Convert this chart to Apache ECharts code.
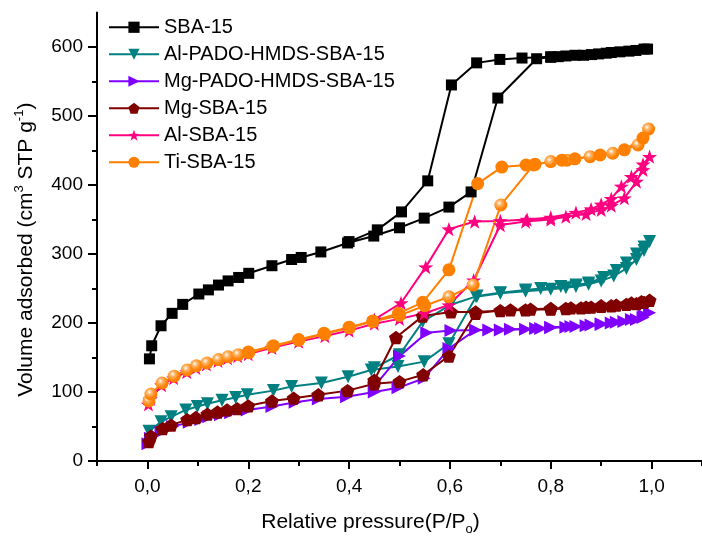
<!DOCTYPE html>
<html>
<head>
<meta charset="utf-8">
<script src="https://cdn.jsdelivr.net/npm/echarts@6/dist/echarts.min.js"></script>
<style>html,body{margin:0;padding:0;background:#fff}#c{width:702px;height:550px}</style>
</head>
<body>
<div id="c"></div>
<script>
// ---- data ----
const xTicks = [0, 0.2, 0.4, 0.6, 0.8, 1.0];
const xMinorTicks = [-0.1, 0.1, 0.3, 0.5, 0.7, 0.9, 1.1];
const yTicks = [0, 100, 200, 300, 400, 500, 600];
const yMinorTicks = [50, 150, 250, 350, 450, 550];

const seriesNames = ['SBA-15', 'Al-PADO-HMDS-SBA-15', 'Mg-PADO-HMDS-SBA-15', 'Mg-SBA-15', 'Al-SBA-15', 'Ti-SBA-15'];

const sbaAds = [[0.004,148],[0.0085,167],[0.027,196],[0.049,214],[0.07,227],[0.102,242],[0.121,248],[0.141,255],[0.16,261],[0.181,266],[0.201,272],[0.247,283],[0.286,292],[0.305,295],[0.344,303],[0.397,316],[0.449,326],[0.5,338],[0.549,352],[0.598,368],[0.642,390],[0.695,526],[0.772,583],[0.80,585],[0.815,586],[0.848,588],[0.881,589],[0.91,591],[0.937,593],[0.969,595],[0.992,597]];
const sbaDes = [[0.985,597],[0.955,594],[0.92,592],[0.895,590],[0.865,588],[0.83,587],[0.80,586],[0.743,584],[0.699,582],[0.653,577],[0.603,545],[0.556,406],[0.504,361],[0.456,335],[0.40,318]];

const alPadoAds = [[0.003,43],[0.027,57],[0.047,64],[0.076,74],[0.099,79],[0.119,83],[0.148,88],[0.175,92],[0.198,96],[0.25,102],[0.286,108],[0.345,113],[0.398,122],[0.444,132],[0.497,137],[0.549,144],[0.598,170],[0.652,238],[0.70,243],[0.75,246],[0.80,249],[0.83,251],[0.85,253],[0.875,256],[0.90,261],[0.925,268],[0.95,279],[0.97,292],[0.985,305],[0.996,318]];
const alPadoDes = [[0.985,310],[0.97,300],[0.95,287],[0.93,276],[0.905,266],[0.875,258],[0.85,255],[0.82,253],[0.78,250],[0.75,248],[0.70,244],[0.654,239],[0.60,226],[0.546,202],[0.50,154],[0.45,135]];

const mgPadoAds = [[0.001,25],[0.006,33],[0.027,42],[0.05,50],[0.083,56],[0.106,60],[0.122,64],[0.145,67],[0.165,70],[0.198,74],[0.247,79],[0.293,85],[0.339,90],[0.395,93],[0.45,100],[0.497,106],[0.549,120],[0.598,163],[0.651,190],[0.70,190],[0.75,191],[0.78,192],[0.80,193],[0.83,194],[0.85,195],[0.88,197],[0.90,199],[0.92,200],[0.945,202],[0.97,205],[0.983,208],[0.996,215]];
const mgPadoDes = [[0.985,211],[0.96,205],[0.93,201],[0.90,198],[0.87,196],[0.84,195],[0.80,194],[0.77,192],[0.72,191],[0.677,190],[0.602,189],[0.554,186],[0.50,152],[0.45,108]];

const mgSbaAds = [[0.003,28],[0.007,36],[0.03,47],[0.047,52],[0.079,60],[0.096,63],[0.119,68],[0.139,71],[0.158,74],[0.178,76],[0.20,80],[0.247,87],[0.29,91],[0.339,96],[0.397,102],[0.45,112],[0.50,115],[0.547,125],[0.598,152],[0.651,214],[0.70,218],[0.75,219],[0.80,220],[0.83,221],[0.86,222],[0.88,223],[0.90,224],[0.92,225],[0.95,227],[0.97,228],[0.985,230],[0.996,233]];
const mgSbaDes = [[0.98,231],[0.96,229],[0.93,226],[0.90,225],[0.87,223],[0.84,222],[0.80,221],[0.76,220],[0.72,219],[0.651,216],[0.602,216],[0.546,210],[0.493,179],[0.45,117]];

const alSbaAds = [[0.002,82],[0.006,90],[0.028,110],[0.052,120],[0.078,129],[0.096,135],[0.117,140],[0.14,145],[0.159,149],[0.179,152],[0.20,155],[0.247,164],[0.30,173],[0.352,181],[0.40,189],[0.45,199],[0.50,206],[0.549,214],[0.598,226],[0.647,262],[0.70,342],[0.75,347],[0.80,350],[0.83,354],[0.87,358],[0.90,364],[0.92,370],[0.946,381],[0.97,405],[0.983,422],[0.996,441]];
const alSbaDes = [[0.983,430],[0.96,412],[0.94,398],[0.92,380],[0.90,372],[0.88,365],[0.85,360],[0.80,353],[0.753,350],[0.70,348],[0.649,347],[0.598,336],[0.552,281],[0.503,229],[0.45,205]];

const tiAds = [[0.003,87],[0.007,97],[0.029,113],[0.053,123],[0.079,132],[0.097,138],[0.118,142],[0.141,147],[0.16,151],[0.18,154],[0.201,157],[0.248,166],[0.30,175],[0.352,184],[0.401,193],[0.447,202],[0.50,211],[0.55,225],[0.598,238],[0.646,255],[0.701,371],[0.766,429],[0.80,434],[0.832,436],[0.878,441],[0.923,446],[0.973,458],[0.994,481]];
const tiDes = [[0.983,468],[0.946,451],[0.898,443.5],[0.848,438],[0.822,436],[0.769,430],[0.751,429],[0.703,426],[0.655,402],[0.598,277],[0.546,230],[0.498,214],[0.447,203],[0.40,194],[0.35,185],[0.30,176],[0.25,167],[0.20,158]];

// ---- styles ----
const FONT = "'Liberation Sans', Arial, sans-serif";
function starPath() {
  const pts = [];
  for (let i = 0; i < 10; i++) {
    const a = (-90 + i * 36) * Math.PI / 180;
    const r = i % 2 === 0 ? 1 : 0.4;
    pts.push((r * Math.cos(a)).toFixed(4) + ',' + (r * Math.sin(a)).toFixed(4));
  }
  return 'path://M' + pts.join(' L') + ' Z';
}
const pentagon = 'path://M0,-1 L0.951,-0.309 L0.588,0.809 L-0.588,0.809 L-0.951,-0.309 Z';
const glossy = {
  type: 'radial', x: 0.38, y: 0.35, r: 0.65,
  colorStops: [{offset: 0, color: '#ffffff'}, {offset: 0.3, color: '#ffb466'}, {offset: 0.75, color: '#ff8000'}, {offset: 1, color: '#ff8000'}]
};

function mk(name, ads, des, color, symbol, size, rotate, glossyAds) {
  const data = ads.map(p => glossyAds ? {value: p, itemStyle: {color: glossy}} : p).concat(des);
  return {
    name: name, type: 'line', data: data,
    symbol: symbol, symbolSize: size, symbolRotate: rotate, symbolKeepAspect: true,
    showAllSymbol: true,
    lineStyle: {color: color, width: 2},
    itemStyle: {color: color, borderWidth: 0},
    emphasis: {disabled: true},
    animation: false, z: 2
  };
}

const series = [
  mk(seriesNames[0], sbaAds, sbaDes, '#000000', 'rect', 11, 0, false),
  mk(seriesNames[1], alPadoAds, alPadoDes, '#008080', 'triangle', 13, 180, false),
  mk(seriesNames[2], mgPadoAds, mgPadoDes, '#8000ff', 'triangle', 13, -90, false),
  mk(seriesNames[3], mgSbaAds, mgSbaDes, '#800000', pentagon, 14, 0, false),
  mk(seriesNames[4], alSbaAds, alSbaDes, '#ff0080', starPath(), 15, 0, false),
  mk(seriesNames[5], tiAds, tiDes, '#ff8000', 'circle', 13, 0, true)
];

const fmt = v => Number(v).toFixed(1).replace('.', ',');

const option = {
  animation: false,
  backgroundColor: '#ffffff',
  textStyle: {fontFamily: FONT},
  grid: {left: 97, top: 12.5, width: 609, height: 448.5, containLabel: false},
  legend: {
    data: seriesNames, orient: 'vertical', left: 108, top: 17, padding: 0,
    itemWidth: 50, itemHeight: 14, itemGap: 6.5,
    textStyle: {fontSize: 20, lineHeight: 20.5, color: '#000', fontFamily: FONT}
  },
  xAxis: [{
    type: 'value', min: -0.1, max: 1.1, position: 'bottom',
    axisLine: {show: true, onZero: false, lineStyle: {color: '#000', width: 2}},
    axisTick: {show: true, inside: false, length: 8, lineStyle: {color: '#000', width: 2}, customValues: xTicks},
    axisLabel: {show: true, customValues: xTicks, formatter: fmt, fontSize: 19, color: '#000', margin: 16, fontFamily: FONT},
    splitLine: {show: false},
    name: '{n|Relative pressure(P/P}{b|o}{n|)}',
    nameLocation: 'middle', nameGap: 47,
    nameTextStyle: {padding: [0, 58, 0, 0], rich: {
      n: {fontSize: 21, lineHeight: 28, color: '#000', fontFamily: FONT},
      b: {fontSize: 13, lineHeight: 13, verticalAlign: 'bottom', color: '#000', fontFamily: FONT}
    }}
  }, {
    type: 'value', min: -0.1, max: 1.1, position: 'bottom',
    axisLine: {show: false, onZero: false},
    axisTick: {show: true, inside: false, length: 5, lineStyle: {color: '#000', width: 2}, customValues: xMinorTicks},
    axisLabel: {show: false},
    splitLine: {show: false}
  }],
  yAxis: [{
    type: 'value', min: 0, max: 650, position: 'left',
    axisLine: {show: true, onZero: false, lineStyle: {color: '#000', width: 2}},
    axisTick: {show: true, inside: false, length: 9, lineStyle: {color: '#000', width: 2}, customValues: yTicks},
    axisLabel: {show: true, customValues: yTicks, fontSize: 19, color: '#000', margin: 14, fontFamily: FONT},
    splitLine: {show: false},
    name: '{n|Volume adsorbed (cm}{s|3}{n| STP g}{s|-1}{n|)}',
    nameLocation: 'middle', nameGap: 58, nameRotate: 90,
    nameTextStyle: {padding: [0, 26, 0, 0], rich: {
      n: {fontSize: 21, lineHeight: 26, color: '#000', fontFamily: FONT},
      s: {fontSize: 13, lineHeight: 13, verticalAlign: 'top', color: '#000', fontFamily: FONT}
    }}
  }, {
    type: 'value', min: 0, max: 650, position: 'left',
    axisLine: {show: false, onZero: false},
    axisTick: {show: true, inside: false, length: 5, lineStyle: {color: '#000', width: 2}, customValues: yMinorTicks},
    axisLabel: {show: false},
    splitLine: {show: false}
  }],
  series: series
};

const chart = echarts.init(document.getElementById('c'), null, {renderer: 'canvas', width: 702, height: 550});
chart.setOption(option);
</script>
</body>
</html>
